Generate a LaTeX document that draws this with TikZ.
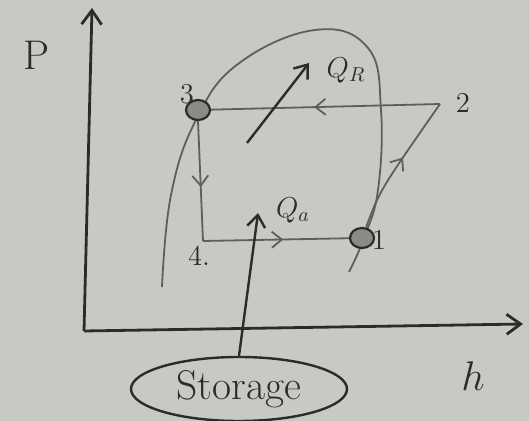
\documentclass[tikz,border=0pt]{standalone}
\usepackage{amsmath}
\usepackage{xcolor}
\usetikzlibrary{arrows.meta,positioning,decorations.markings,shapes.geometric}
\definecolor{paper}{HTML}{C9C9C4}
\definecolor{pencil}{HTML}{2B2B2B}
\definecolor{faint}{HTML}{5E5E5A}
\definecolor{dot}{HTML}{8A8A86}

\begin{document}
\begin{tikzpicture}[x=0.5pt,y=-0.5pt,
  axis/.style={draw=pencil,line width=1.4pt,-{Straight Barb[length=7pt,width=10pt]}},
  cyc/.style={draw=faint,line width=0.9pt},
  flow/.style={cyc,postaction={decorate},
               decoration={markings,mark=at position 0.55 with {\arrow{Straight Barb[length=5pt,width=8pt]}}}},
  state/.style={ellipse,draw=pencil,fill=dot,line width=1.1pt,minimum width=12pt,
                minimum height=10pt,inner sep=0pt},
  heat/.style={draw=pencil,line width=1.2pt,-{Straight Barb[length=6pt,width=9pt]}},
  lbl/.style={font=\Large,text=pencil}
]
\useasboundingbox[fill=paper] (0,0) rectangle (529,421);

% axes
\coordinate (o) at (84,331);
\coordinate (ytop) at (92,8);
\coordinate (xend) at (523,324);
\draw[axis] (o) -- (ytop);
\draw[axis] (o) -- (xend);
\node[font=\huge,text=pencil] (plbl) at (37,55) {P};
\node[font=\huge,text=pencil] (hlbl) at (473,376) {$h$};

% saturation dome
\draw[cyc] plot[smooth,tension=0.7] coordinates {(162,287) (171,195) (196,120) (238,64)
  (315,30) (368,48) (381,110) (378,190) (364,238) (349,272)};

% cycle states
\node[state] (s3) at (198,110) {};
\node[state] (s1) at (362,238) {};
\coordinate (s2) at (440,104);
\coordinate (s4) at (203,241);
\node[lbl] (l3) at (187,94) {3};
\node[lbl] (l2) at (463,103) {2};
\node[lbl] (l1) at (379,240) {1};
\node[lbl] (l4) at (199,256) {4.};

\draw[flow] (s2) -- (s3);
\draw[flow] (s3.south) -- (s4);
\draw[flow] (s4) -- (s1);
\draw[flow] (s1) .. controls (380,190) .. (s2);

% heat flows
\coordinate (qr0) at (247,143);
\coordinate (qr1) at (309,63);
\draw[heat] (qr0) -- (qr1);
\node[lbl] (qr) at (346,70) {$Q_R$};

\node[draw=pencil,ellipse,line width=1.2pt,minimum width=108pt,minimum height=32pt,
      inner sep=0pt,font=\huge,text=pencil] (store) at (239,389) {Storage};
\coordinate (qa1) at (258,213);
\draw[heat] (store.north) -- (qa1);
\node[lbl] (qa) at (293,210) {$Q_a$};
\end{tikzpicture}
\end{document}
